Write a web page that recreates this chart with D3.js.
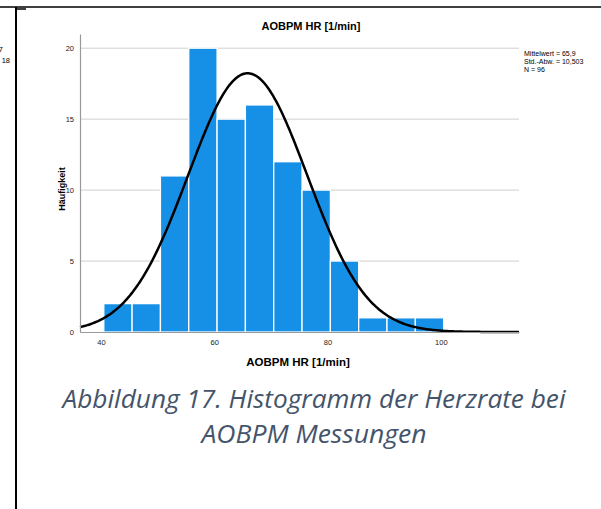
<!DOCTYPE html>
<meta charset="utf-8">
<script src="https://cdn.jsdelivr.net/npm/d3@7/dist/d3.min.js"></script>
<style>
  body { margin: 0; background: #fff; }
  text { font-family: "Liberation Sans", Arial, sans-serif; }
</style>
<body>
<script>
  // histogram data
  var binStarts = [40.5, 45.5, 50.5, 55.5, 60.5, 65.5, 70.5, 75.5, 80.5, 85.5, 90.5, 95.5];
  var counts = [2, 2, 11, 20, 15, 16, 12, 10, 5, 1, 1, 1];
  var binWidth = 5;
  var xTicks = [40, 60, 80, 100];
  var yTicks = [0, 5, 10, 15, 20];
  var statLabels = ["Mittelwert = 65,9", "Std.-Abw. = 10,503", "N = 96"];
  var mean = 65.9, sd = 10.503, n = 96;

  var width = 601, height = 509;

  var svg = d3.select("body").append("svg")
    .attr("width", width)
    .attr("height", height);

  // page frame lines
  svg.append("line").attr("x1", 0).attr("x2", width).attr("y1", 7).attr("y2", 7)
    .style("stroke", "#000").style("stroke-width", 1.5);
  svg.append("line").attr("x1", 16).attr("x2", 16).attr("y1", 7).attr("y2", height)
    .style("stroke", "#000").style("stroke-width", 2);
  svg.append("line").attr("x1", 16).attr("x2", 26).attr("y1", 9).attr("y2", 9)
    .style("stroke", "#000").style("stroke-width", 1.5);

  // clipped fragments of a neighbouring chart
  svg.append("text").attr("x", 3).attr("y", 52).attr("text-anchor", "end")
    .style("font-size", "7.5px").text("7");
  svg.append("text").attr("x", 10).attr("y", 63).attr("text-anchor", "end")
    .style("font-size", "7.5px").text("18");

  var x = d3.scaleLinear().domain([36.3, 113.8]).range([80, 519]);
  var y = d3.scaleLinear().domain([0, 21]).range([332, 34]);

  // gridlines
  svg.append("g").selectAll("line")
    .data(yTicks.filter(function (d) { return d > 0; }))
    .enter().append("line")
    .attr("x1", x.range()[0]).attr("x2", x.range()[1])
    .attr("y1", function (d) { return y(d); })
    .attr("y2", function (d) { return y(d); })
    .style("stroke", "#d0d0d0").style("stroke-width", 1);

  // bars
  svg.append("g").selectAll("rect")
    .data(counts)
    .enter().append("rect")
    .attr("x", function (d, i) { return x(binStarts[i]); })
    .attr("width", function (d, i) { return x(binStarts[i] + binWidth) - x(binStarts[i]); })
    .attr("y", function (d) { return y(d); })
    .attr("height", function (d) { return y(0) - y(d); })
    .style("fill", "#1590e6")
    .style("stroke", "#fff")
    .style("stroke-width", 1.3);

  // normal curve fitted from the stated mean / sd / N
  var dom = x.domain();
  var curvePts = d3.range(0, 301).map(function (i) {
    var v = dom[0] + (dom[1] - dom[0]) * i / 300;
    var z = (v - mean) / sd;
    return [v, n * binWidth * Math.exp(-0.5 * z * z) / (sd * Math.sqrt(2 * Math.PI))];
  });
  svg.append("path")
    .datum(curvePts)
    .attr("d", d3.line()
      .x(function (d) { return x(d[0]); })
      .y(function (d) { return y(d[1]); }))
    .style("fill", "none")
    .style("stroke", "#000")
    .style("stroke-width", 2.5);

  // axes
  var xAxis = svg.append("g")
    .attr("transform", "translate(0," + y(0) + ")")
    .call(d3.axisBottom(x).tickValues(xTicks).tickSize(0).tickPadding(8));
  var yAxis = svg.append("g")
    .attr("transform", "translate(" + x.range()[0] + ",0)")
    .call(d3.axisLeft(y).tickValues(yTicks).tickSize(0).tickPadding(6));
  [xAxis, yAxis].forEach(function (a) {
    a.select(".domain").style("stroke", "#999").style("stroke-width", 1.2);
    a.selectAll("text").style("font-size", "7.5px").style("fill", "#222")
      .style("font-family", "'Liberation Sans', Arial, sans-serif");
  });

  // titles
  svg.append("text").attr("x", 311).attr("y", 30).attr("text-anchor", "middle")
    .style("font-size", "11px").style("font-weight", 700).text("AOBPM HR [1/min]");
  svg.append("text").attr("x", 298).attr("y", 366).attr("text-anchor", "middle")
    .style("font-size", "11.5px").style("font-weight", 700).text("AOBPM HR [1/min]");
  svg.append("text")
    .attr("transform", "translate(65,189) rotate(-90)")
    .attr("text-anchor", "middle")
    .style("font-size", "9px").style("font-weight", 700).text("Häufigkeit");

  // stats legend
  svg.append("g").selectAll("text")
    .data(statLabels)
    .enter().append("text")
    .attr("x", 524)
    .attr("y", function (d, i) { return 56 + i * 8; })
    .style("font-size", "7px")
    .text(function (d) { return d; });

  // figure caption
  var capLines = ["Abbildung 17. Histogramm der Herzrate bei", "AOBPM Messungen"];
  var capWidths = [503, 225];
  svg.append("g").selectAll("text")
    .data(capLines)
    .enter().append("text")
    .attr("x", 314)
    .attr("y", function (d, i) { return 408 + i * 35; })
    .attr("text-anchor", "middle")
    .attr("textLength", function (d, i) { return capWidths[i]; })
    .attr("lengthAdjust", "spacingAndGlyphs")
    .style("font-family", "'Open Sans', 'Noto Sans', sans-serif")
    .style("font-style", "italic")
    .style("font-size", "25px")
    .style("fill", "#44546a")
    .text(function (d) { return d; });
</script>
</body>
